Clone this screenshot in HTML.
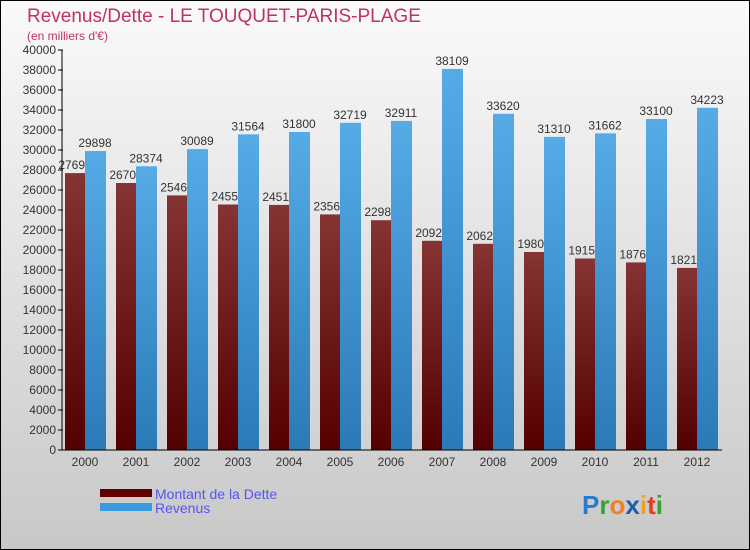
<!DOCTYPE html>
<html><head><meta charset="utf-8"><style>
body{margin:0;}
#c{width:750px;height:550px;position:relative;overflow:hidden;}
svg{display:block;font-family:"Liberation Sans",sans-serif;}
</style></head><body>
<div id="c">
<svg id="s" width="750" height="550" xmlns="http://www.w3.org/2000/svg">
<defs>
<linearGradient id="bg" x1="0" y1="0" x2="0" y2="1"><stop offset="0" stop-color="#fafafa"/><stop offset="1" stop-color="#c8c8c8"/></linearGradient>
<linearGradient id="red" x1="0" y1="0" x2="0" y2="1"><stop offset="0" stop-color="#853333"/><stop offset="1" stop-color="#540000"/></linearGradient>
<linearGradient id="blue" x1="0" y1="0" x2="0" y2="1"><stop offset="0" stop-color="#56abe6"/><stop offset="1" stop-color="#2a7ab8"/></linearGradient>
</defs>
<rect x="0.5" y="0.5" width="749" height="549" fill="url(#bg)" stroke="#000"/>
<text x="27" y="22" font-size="19" fill="#c0306a">Revenus/Dette - LE TOUQUET-PARIS-PLAGE</text>
<text x="27" y="40" font-size="12" fill="#c0306a">(en milliers d'€)</text>
<g id="plot"></g>
<rect x="100" y="489" width="52" height="8" fill="#600000"/>
<rect x="100" y="503" width="52" height="8" fill="#3a9ae0"/>
<text x="155" y="499" font-size="14" fill="#5555ee">Montant de la Dette</text>
<text x="155" y="513" font-size="14" fill="#5555ee">Revenus</text>
<text x="582" y="514" font-size="26" font-weight="bold"><tspan fill="#2a7ad0">P</tspan><tspan fill="#3aa030">r</tspan><tspan fill="#f08020">o</tspan><tspan fill="#1a60b0">x</tspan><tspan fill="#f0a020">i</tspan><tspan fill="#e04020">t</tspan><tspan fill="#3aa030">i</tspan></text>
</svg></div>
<script>
const years=["2000","2001","2002","2003","2004","2005","2006","2007","2008","2009","2010","2011","2012"];
const dette=[27690,26700,25460,24550,24510,23560,22980,20920,20620,19800,19150,18760,18210];
const revenus=[29898,28374,30089,31564,31800,32719,32911,38109,33620,31310,31662,33100,34223];
const yTicks=[0,2000,4000,6000,8000,10000,12000,14000,16000,18000,20000,22000,24000,26000,28000,30000,32000,34000,36000,38000,40000];
const NS="http://www.w3.org/2000/svg";
const g=document.getElementById('plot');
function y(v){return 450-v*0.01;}
function xc(i){return 85+51*i;}
function mk(t,a,txt){const e=document.createElementNS(NS,t);for(const k in a)e.setAttribute(k,a[k]);if(txt!=null)e.textContent=txt;g.appendChild(e);return e;}
yTicks.forEach(v=>{
 const l=mk('line',{x1:58,x2:63,y1:y(v),y2:y(v),stroke:'#000'});
 
 
 const t=mk('text',{x:56,y:y(v)+4,'font-size':12,'text-anchor':'end',fill:'#333'},String(v));
 
 
});
years.forEach((yr,i)=>{
 const c=xc(i);
 const r=mk('rect',{x:c-20,y:y(dette[i]),width:20,height:450-y(dette[i]),fill:'url(#red)'});
 
 
 const t=mk('text',{x:c-10,y:y(dette[i])-4,'font-size':12,'text-anchor':'middle',fill:'#333'},String(dette[i]));
 
 
});
years.forEach((yr,i)=>{
 const c=xc(i);
 const b=mk('rect',{x:c,y:y(revenus[i]),width:21,height:450-y(revenus[i]),fill:'url(#blue)'});
 
 
 const t=mk('text',{x:c+10,y:y(revenus[i])-4,'font-size':12,'text-anchor':'middle',fill:'#333'},String(revenus[i]));
 
 
 const xl=mk('text',{x:c,y:466,'font-size':12,'text-anchor':'middle',fill:'#333'},yr);
 
 
});
const ya=mk('line',{x1:62,x2:62,y1:50,y2:450,stroke:'#000'});


const xa=mk('line',{x1:62,x2:722,y1:450,y2:450,stroke:'#000'});


</script>
</body></html>
